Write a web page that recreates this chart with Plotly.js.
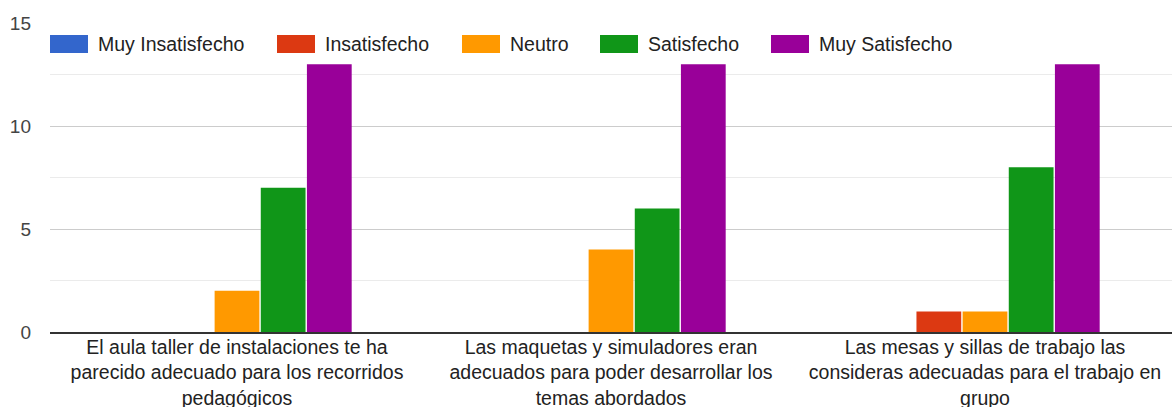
<!DOCTYPE html>
<html>
<head>
<meta charset="utf-8">
<script src="https://cdn.plot.ly/plotly-3.0.1.min.js"></script>
<style>
  html, body { margin: 0; padding: 0; background: #fff; }
  #chart { width: 1173px; height: 407px; }
</style>
</head>
<body>
<div id="chart"></div>
<script>
// ---- data ----
const categories = [
  "El aula taller de instalaciones te ha<br>parecido adecuado para los recorridos<br>pedagógicos",
  "Las maquetas y simuladores eran<br>adecuados para poder desarrollar los<br>temas abordados",
  "Las mesas y sillas de trabajo las<br>consideras adecuadas para el trabajo en<br>grupo"
];
const seriesNames = ["Muy Insatisfecho", "Insatisfecho", "Neutro", "Satisfecho", "Muy Satisfecho"];
const muyInsatisfecho = [0, 0, 0];
const insatisfecho    = [0, 0, 1];
const neutro          = [2, 4, 1];
const satisfecho      = [7, 6, 8];
const muySatisfecho   = [13, 13, 13];
const yTickVals = [0, 5, 10, 15];
const yTickText = ["0", "5", "10", "15"];

// ---- styles ----
const colors = ["#3366cc", "#dc3912", "#ff9900", "#109618", "#990099"];
const seriesValues = [muyInsatisfecho, insatisfecho, neutro, satisfecho, muySatisfecho];
const FONT = "Arial, 'Liberation Sans', sans-serif";

const traces = seriesValues.map((vals, i) => ({
  type: "bar",
  name: seriesNames[i],
  x: categories,
  y: vals,
  marker: { color: colors[i] },
  hoverinfo: "x+y+name"
}));

// custom legend (paper coordinates)
const W = 1173, H = 407;
const margin = { l: 50, r: 1, t: 23, b: 75 };
const pw = W - margin.l - margin.r, ph = H - margin.t - margin.b;
const px = x => (x - margin.l) / pw;
const py = y => (H - margin.b - y) / ph;
const legendSwatchX = [50, 277, 462, 600, 771];
const swW = 38, swTop = 35, swBot = 53, txtGap = 8;

const shapes = [], annotations = [];
legendSwatchX.forEach((sx, i) => {
  shapes.push({
    type: "rect", xref: "paper", yref: "paper",
    x0: px(sx), x1: px(sx + swW), y0: py(swBot), y1: py(swTop),
    fillcolor: colors[i], line: { width: 0 }, layer: "above"
  });
  annotations.push({
    xref: "paper", yref: "paper",
    x: px(sx + swW + txtGap), y: py((swTop + swBot) / 2),
    xanchor: "left", yanchor: "middle",
    text: seriesNames[i], showarrow: false,
    font: { family: FONT, size: 19.5, color: "#222" }
  });
});

const layout = {
  width: W, height: H,
  margin: margin,
  paper_bgcolor: "#fff", plot_bgcolor: "#fff",
  showlegend: false,
  barmode: "group",
  bargap: 0.383,
  bargroupgap: 0.03,
  font: { family: FONT, size: 19, color: "#333" },
  xaxis: {
    type: "category",
    showgrid: false,
    showline: true, linecolor: "#333", linewidth: 1.5,
    ticks: "",
    ticklabelstandoff: -3,
    tickfont: { family: FONT, size: 19.5, color: "#222" },
    automargin: false,
    fixedrange: true
  },
  yaxis: {
    range: [0, 15],
    tickvals: yTickVals, ticktext: yTickText,
    showgrid: true, gridcolor: "#cccccc", gridwidth: 1,
    minor: { dtick: 2.5, showgrid: true, gridcolor: "#ebebeb", gridwidth: 1 },
    zeroline: false,
    ticks: "",
    ticklabelstandoff: 18,
    tickfont: { family: FONT, size: 19, color: "#444" },
    automargin: false,
    fixedrange: true
  },
  shapes: shapes,
  annotations: annotations
};

Plotly.newPlot("chart", traces, layout, { displayModeBar: false, staticPlot: true });
</script>
</body>
</html>
